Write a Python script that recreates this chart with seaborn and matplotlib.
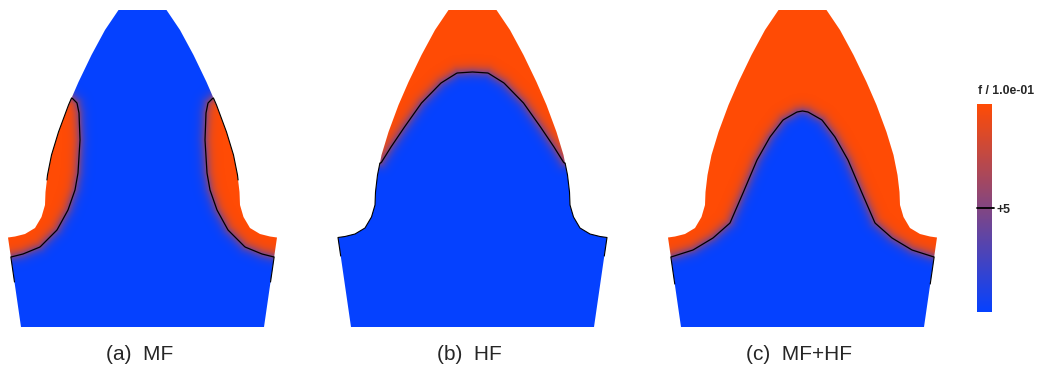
import numpy as np
import matplotlib
matplotlib.use("Agg")
import matplotlib.pyplot as plt
from matplotlib.path import Path
from matplotlib.patches import PathPatch
import seaborn as sns

sns.set_style("white")
plt.rcParams["font.family"] = ["Liberation Sans", "DejaVu Sans"]

# tooth outline (left half, mirrored): offset from tooth axis / px from top
tooth_y = [10, 30, 55, 82, 105, 132, 155, 175, 192, 205, 217, 228, 234, 236.5, 237.5, 258, 327]
tooth_dx = [24, 37.5, 51, 64, 74, 84, 91, 95, 97, 97.5, 101, 107.5, 117.5, 127.5, 134.5, 131.5, 121.5]

panel_labels = ["(a)  MF", "(b)  HF", "(c)  MF+HF"]
centers = [142.5, 472.5, 802.5]

# f = 5 isoline, left half (mirrored to the right)
mf_y = [98, 103, 113, 140, 173, 190, 210, 230, 247, 254, 257]
mf_dx = [70.5, 65.5, 63.5, 62.5, 64.5, 67.5, 74.5, 85.5, 102.5, 119.5, 131.5]
hf_y = [163, 147, 127, 103, 83, 73, 72]
hf_dx = [91.5, 81.5, 68, 51, 31.5, 15.5, 0]
mfhf_y = [257, 250, 238, 223, 193, 160, 137, 120, 112, 111]
mfhf_dx = [131.5, 109.5, 89.5, 72.5, 59.5, 45.5, 32.5, 19.5, 5.5, 0]

# stretches of the outline where f sits at the isoline value
mf_edges = [(98, 180), (257, 282)]
hf_edges = [(163, 256)]
mfhf_edges = [(257, 284)]

f_ticks = [5]
f_tick_labels = ["+5"]
f_min, f_max = 0, 10

cmap = sns.blend_palette(["#0541FF", "#FF4B05"], as_cmap=True)


def signed_distance(X, Y, poly):
    poly = np.asarray(poly, dtype=float)
    b = np.roll(poly, -1, axis=0)
    d = np.full(X.shape, np.inf)
    for (x0, y0), (x1, y1) in zip(poly, b):
        ex, ey = x1 - x0, y1 - y0
        t = np.clip(((X - x0) * ex + (Y - y0) * ey) / (ex * ex + ey * ey), 0, 1)
        d = np.minimum(d, np.hypot(X - x0 - t * ex, Y - y0 - t * ey))
    pts = np.column_stack([X.ravel(), Y.ravel()])
    inside = Path(poly).contains_points(pts).reshape(X.shape)
    return np.where(inside, d, -d)


def flank_regions(cx, ys, dxs):
    # hot zone between isoline and each flank
    left = [(cx - dx, y) for dx, y in zip(dxs, ys)] + [(cx - 170, ys[-1] + 6), (cx - 170, 150)]
    right = [(2 * cx - x, y) for x, y in left]
    return [left, right]


def cap_region(cx, ys, dxs):
    # hot zone above the isoline (tooth tip)
    left = [(cx - dx, y) for dx, y in zip(dxs, ys)]
    right = [(cx + dx, y) for dx, y in zip(dxs[::-1][1:], ys[::-1][1:])]
    y0 = ys[0] + 6
    return [left + right + [(cx + 170, y0), (cx + 170, -40), (cx - 170, -40), (cx - 170, y0)]]


fig = plt.figure(figsize=(10.42, 3.72), dpi=100)
ax = fig.add_axes([0, 0, 1, 1])
ax.set_xlim(0, 1042)
ax.set_ylim(372, 0)
ax.axis("off")

regions = [flank_regions(centers[0], mf_y, mf_dx),
           cap_region(centers[1], hf_y, hf_dx),
           cap_region(centers[2], mfhf_y, mfhf_dx)]
edges = [mf_edges, hf_edges, mfhf_edges]

for cx, label, hot, edge in zip(centers, panel_labels, regions, edges):
    left = [(cx - dx, y) for dx, y in zip(tooth_dx, tooth_y)]
    right = [(cx + dx, y) for dx, y in zip(tooth_dx[::-1], tooth_y[::-1])]
    outline = left + right
    patch = PathPatch(Path(outline + [outline[0]], closed=True), facecolor="none", edgecolor="none")
    ax.add_patch(patch)

    xs = np.arange(cx - 141, cx + 142, 1.0)
    ys = np.arange(4, 334, 1.0)
    X, Y = np.meshgrid(xs, ys)
    sd = np.max([signed_distance(X, Y, p) for p in hot], axis=0)
    F = f_max / (1 + np.exp(-sd / 3.2))

    im = ax.imshow(F, extent=(xs[0] - 0.5, xs[-1] + 0.5, ys[-1] + 0.5, ys[0] - 0.5),
                   origin="upper", cmap=cmap, vmin=f_min, vmax=f_max,
                   interpolation="bilinear", aspect="auto")
    im.set_clip_path(patch)

    cs = ax.contour(X, Y, F, levels=[5], colors="k", linewidths=0.9)
    cs.set_clip_path(patch)

    # outline stretches drawn as part of the isoline
    for y0, y1 in edge:
        sel = [(dx, y) for dx, y in zip(tooth_dx, tooth_y) if y0 < y < y1]
        seg = [(np.interp(y0, tooth_y, tooth_dx), y0)] + sel + [(np.interp(y1, tooth_y, tooth_dx), y1)]
        sx = np.array([s[0] for s in seg])
        sy = np.array([s[1] for s in seg])
        ax.plot(cx - sx, sy, color="k", lw=0.8)
        ax.plot(cx + sx, sy, color="k", lw=0.8)

    ax.text(cx - 3, 354, label, ha="center", va="center", fontsize=15)

# colour legend
cax = fig.add_axes([977 / 1042, 1 - 312 / 372, 15 / 1042, 208 / 372])
cb = fig.colorbar(im, cax=cax, ticks=f_ticks)
cb.set_ticklabels(f_tick_labels)
cb.outline.set_visible(False)
cax.tick_params(length=0, pad=3, labelsize=8.8)
for t in cax.get_yticklabels():
    t.set_fontweight("bold")
cax.axhline(5, xmin=0, xmax=1.1, color="k", lw=1.3, clip_on=False)
fig.text(1006 / 1042, 1 - 91 / 372, "f / 1.0e-01", ha="center", va="center",
         fontsize=8.8, fontweight="bold")

fig.savefig("out.png", dpi=100)
